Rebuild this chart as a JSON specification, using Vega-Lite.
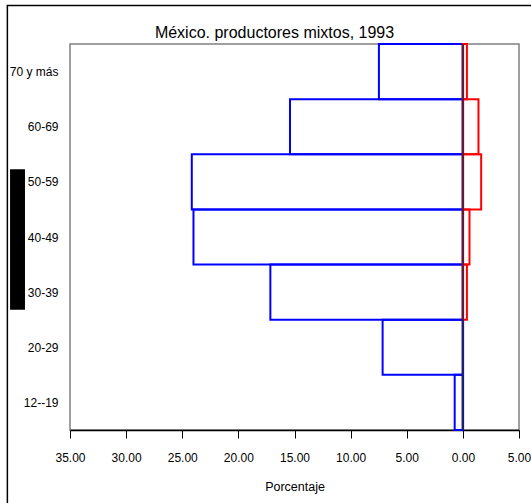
{
  "$schema": "https://vega.github.io/schema/vega-lite/v6.json",
  "autosize": "none",
  "width": 449,
  "height": 386,
  "padding": {"left": 70, "top": 44, "right": 12, "bottom": 73},
  "background": "white",
  "config": {
    "view": {"stroke": "#808080", "strokeWidth": 1.5},
    "font": "Liberation Sans, Arial, sans-serif"
  },
  "title": {
    "text": "México. productores mixtos, 1993",
    "fontSize": 16,
    "fontWeight": "normal",
    "color": "#000",
    "anchor": "middle",
    "frame": "group",
    "dx": -20,
    "offset": -36
  },
  "datasets": {
    "piramide": [
      {"edad": "12--19", "hombres": 0.73, "mujeres": 0},
      {"edad": "20-29", "hombres": 7.15, "mujeres": 0},
      {"edad": "30-39", "hombres": 17.15, "mujeres": 0.36},
      {"edad": "40-49", "hombres": 24.0, "mujeres": 0.59},
      {"edad": "50-59", "hombres": 24.15, "mujeres": 1.63},
      {"edad": "60-69", "hombres": 15.4, "mujeres": 1.39},
      {"edad": "70 y más", "hombres": 7.48, "mujeres": 0.36}
    ],
    "marco": [{"x1": -40.58, "x2": 7, "y1": -1.5, "y2": 7.7}],
    "barra": [{"x1": -40.34, "x2": -39.01, "y1": 2.18, "y2": 4.73}]
  },
  "layer": [
    {
      "data": {"name": "piramide"},
      "transform": [
        {"window": [{"op": "row_number", "as": "i"}]},
        {"calculate": "datum.i - 1", "as": "i0"},
        {"calculate": "-datum.hombres", "as": "neg"},
        {"calculate": "0", "as": "cero"}
      ],
      "mark": {"type": "rect", "fill": "#fff", "fillOpacity": 0, "stroke": "#0000ff", "strokeWidth": 2},
      "encoding": {
        "x": {
          "field": "neg", "type": "quantitative",
          "scale": {"domain": [-35, 5], "nice": false, "zero": false},
          "axis": {
            "values": [-35, -30, -25, -20, -15, -10, -5, 0, 5],
            "labelExpr": "format(abs(datum.value), '.2f')",
            "title": "Porcentaje",
            "grid": false,
            "domainColor": "#000", "domainWidth": 1.5,
            "tickColor": "#000", "tickSize": 8, "tickWidth": 1,
            "labelFontSize": 12, "labelColor": "#000", "labelPadding": 14, "labelFlush": false,
            "titleFontSize": 12.5, "titleFontWeight": "normal", "titleColor": "#000", "titlePadding": 17
          }
        },
        "x2": {"field": "cero"},
        "y": {
          "field": "i0", "type": "quantitative",
          "scale": {"domain": [0, 7], "nice": false, "zero": false},
          "axis": {
            "values": [0.5, 1.5, 2.5, 3.5, 4.5, 5.5, 6.5],
            "labelExpr": "['12--19','20-29','30-39','40-49','50-59','60-69','70 y más'][floor(datum.value)]",
            "title": null, "domain": false, "ticks": false, "grid": false,
            "labelFontSize": 12, "labelColor": "#000", "labelPadding": 12
          }
        },
        "y2": {"field": "i"}
      }
    },
    {
      "data": {"name": "piramide"},
      "transform": [
        {"window": [{"op": "row_number", "as": "i"}]},
        {"calculate": "datum.i - 1", "as": "i0"},
        {"calculate": "0", "as": "cero"},
        {"filter": "datum.mujeres > 0"}
      ],
      "mark": {"type": "rect", "fill": "#fff", "fillOpacity": 0, "stroke": "#ff0000", "strokeWidth": 2},
      "encoding": {
        "x": {"field": "mujeres", "type": "quantitative"},
        "x2": {"field": "cero"},
        "y": {"field": "i0", "type": "quantitative"},
        "y2": {"field": "i"}
      }
    },
    {
      "data": {"name": "piramide"},
      "transform": [
        {"window": [{"op": "row_number", "as": "i"}]},
        {"calculate": "datum.i - 1", "as": "i0"},
        {"calculate": "0", "as": "cero"}
      ],
      "mark": {"type": "rule", "strokeWidth": 2.5},
      "encoding": {
        "x": {"field": "cero", "type": "quantitative"},
        "y": {"field": "i0", "type": "quantitative"},
        "y2": {"field": "i"},
        "color": {"condition": {"test": "datum.mujeres > 0", "value": "#5e1a36"}, "value": "#1e1e70"}
      }
    },
    {
      "data": {"name": "marco"},
      "mark": {"type": "rect", "fill": "#fff", "fillOpacity": 0, "stroke": "#000", "strokeWidth": 1.5},
      "encoding": {
        "x": {"field": "x1", "type": "quantitative"},
        "x2": {"field": "x2"},
        "y": {"field": "y1", "type": "quantitative"},
        "y2": {"field": "y2"}
      }
    },
    {
      "data": {"name": "barra"},
      "mark": {"type": "rect", "fill": "#000"},
      "encoding": {
        "x": {"field": "x1", "type": "quantitative"},
        "x2": {"field": "x2"},
        "y": {"field": "y1", "type": "quantitative"},
        "y2": {"field": "y2"}
      }
    }
  ]
}
